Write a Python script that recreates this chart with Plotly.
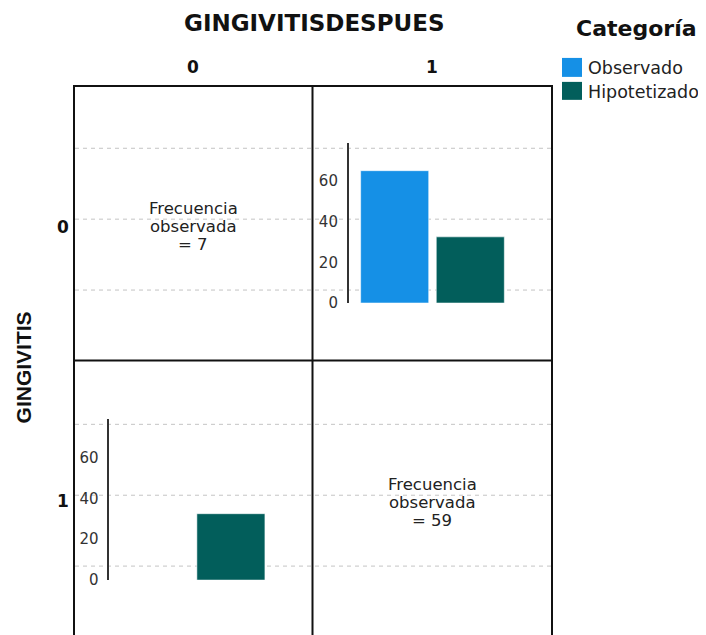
import plotly.graph_objects as go

# ---- data ----
categories = ["Observado", "Hipotetizado"]
colors = ["#1590E6", "#025E5B"]
col_labels = ["0", "1"]          # GINGIVITISDESPUES
row_labels = ["0", "1"]          # GINGIVITIS
cell_01 = [65, 32.5]             # GINGIVITIS=0, DESPUES=1 : observed, hypothesized
cell_10 = [0, 32.5]              # GINGIVITIS=1, DESPUES=0 : observed, hypothesized
freq_00 = 7
freq_11 = 59
y_ticks = [0, 20, 40, 60]

W, H = 706, 635
OFF = 8        # page body margin
HEFF = 627     # effective rendered plot height
def X(px): return (px - OFF) / W
def Y(py): return 1 - (py - OFF) / HEFF

fig = go.Figure()

# ---- bars ----
for i, cat in enumerate(categories):
    fig.add_trace(go.Bar(x=[i], y=[cell_01[i]], name=cat, marker_color=colors[i],
                         marker_line=dict(color="rgba(255,255,255,0.55)", width=1),
                         width=0.9, xaxis="x", yaxis="y", showlegend=False))
    fig.add_trace(go.Bar(x=[i], y=[cell_10[i]], name=cat, marker_color=colors[i],
                         marker_line=dict(color="rgba(255,255,255,0.55)", width=1),
                         width=0.9, xaxis="x2", yaxis="y2", showlegend=False))

xr = [-0.608, 1.640]
yr = [0, 78.7]
yax = dict(range=yr, showline=True, linecolor="#333", linewidth=1.5, showgrid=False,
           zeroline=False, tickvals=y_ticks, ticks="outside", ticklen=6,
           tickcolor="rgba(0,0,0,0)", tickfont=dict(family="DejaVu Sans", size=15, color="#333"))
xax = dict(range=xr, visible=False, showgrid=False, zeroline=False)

fig.update_layout(
    width=W, height=H, margin=dict(l=0, r=0, t=0, b=0),
    paper_bgcolor="white", plot_bgcolor="rgba(0,0,0,0)",
    barmode="overlay", showlegend=False,
    xaxis=dict(xax, domain=[X(348.7), X(518.7)], anchor="y"),
    yaxis=dict(yax, domain=[Y(303.5), Y(143)], anchor="x"),
    xaxis2=dict(xax, domain=[X(109.3), X(279.3)], anchor="y2"),
    yaxis2=dict(yax, domain=[Y(581), Y(420)], anchor="x2"),
)

shapes = []
# dashed cell gridlines
for py in [148.5, 219.5, 290.5, 425, 496, 567]:
    shapes.append(dict(type="line", xref="paper", yref="paper", x0=X(75), x1=X(551),
                       y0=Y(py), y1=Y(py), layer="below",
                       line=dict(color="#c4c4c4", width=1, dash="4px,4px")))
# grid frame
frame = dict(color="#111", width=2)
shapes.append(dict(type="rect", xref="paper", yref="paper", x0=X(74), x1=X(552),
                   y0=Y(645), y1=Y(86), line=frame))
shapes.append(dict(type="line", xref="paper", yref="paper", x0=X(312.5), x1=X(312.5),
                   y0=Y(645), y1=Y(86), line=frame))
shapes.append(dict(type="line", xref="paper", yref="paper", x0=X(74), x1=X(552),
                   y0=Y(361), y1=Y(361), line=frame))
# legend swatches
for i, (top, bot) in enumerate([(58, 77), (82, 100)]):
    shapes.append(dict(type="rect", xref="paper", yref="paper", x0=X(562), x1=X(582),
                       y0=Y(bot), y1=Y(top), fillcolor=colors[i], line=dict(width=0)))
fig.update_layout(shapes=shapes)

ann = []
def txt(t, px, py, size, family="DejaVu Sans", bold=False, xanchor="center", angle=0, color="#111"):
    ann.append(dict(text=(f"<b>{t}</b>" if bold else t), x=X(px), y=Y(py), xref="paper", yref="paper",
                    showarrow=False, xanchor=xanchor, yanchor="middle", textangle=angle,
                    font=dict(family=family, size=size, color=color)))

txt("GINGIVITISDESPUES", 313.5, 23, 23, bold=True)
txt("GINGIVITIS", 23, 368, 21, family="Liberation Sans", bold=True, angle=-90)
txt(col_labels[0], 193, 67, 17, bold=True)
txt(col_labels[1], 432, 67, 17, bold=True)
txt(row_labels[0], 63, 227, 17, bold=True)
txt(row_labels[1], 63, 502, 17, bold=True)
for cx, cy, f in [(193, 227, freq_00), (432, 503, freq_11)]:
    for k, line in enumerate(["Frecuencia", "observada", f"= {f}"]):
        txt(line, cx, cy - 18 + 18 * k, 16.5, color="#222")
txt("Categoría", 636, 29, 22, bold=True)
txt(categories[0], 586, 68, 17.5, xanchor="left", color="#222")
txt(categories[1], 586, 92, 17.5, xanchor="left", color="#222")
fig.update_layout(annotations=ann)

fig.write_html("out.html")
